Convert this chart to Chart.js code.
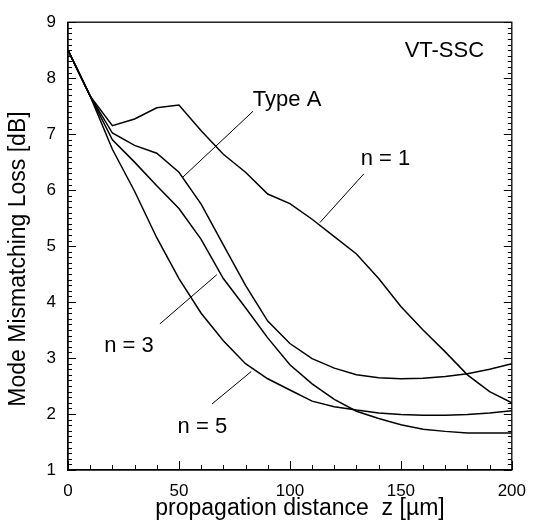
<!DOCTYPE html>
<html>
<head>
<meta charset="utf-8">
<script src="https://cdn.jsdelivr.net/npm/chart.js@4.4.0/dist/chart.umd.min.js"></script>
<style>
  html, body { margin: 0; padding: 0; background: #fff; }
  #wrap { width: 537px; height: 530px; }
</style>
</head>
<body>
<div id="wrap"><canvas id="lossChart"></canvas></div>
<script>
// propagation distance z [um]
var zValues = [0, 10, 20, 30, 40, 50, 60, 70, 80, 90, 100, 110, 120, 130, 140, 150, 160, 170, 180, 190, 200];

// mode mismatching loss [dB]
var lossN1 = [8.5, 7.68, 7.15, 7.27, 7.47, 7.52, 7.06, 6.64, 6.32, 5.93, 5.76, 5.48, 5.17, 4.86, 4.42, 3.92, 3.50, 3.11, 2.70, 2.40, 2.20];
var lossTypeA = [8.5, 7.68, 7.02, 6.80, 6.66, 6.32, 5.75, 5.02, 4.30, 3.66, 3.26, 2.99, 2.82, 2.70, 2.65, 2.63, 2.64, 2.67, 2.72, 2.80, 2.90];
var lossN3 = [8.5, 7.68, 6.90, 6.50, 6.08, 5.67, 5.12, 4.42, 3.90, 3.36, 2.88, 2.54, 2.26, 2.05, 1.92, 1.81, 1.73, 1.69, 1.66, 1.66, 1.66];
var lossN5 = [8.5, 7.68, 6.73, 5.98, 5.15, 4.42, 3.80, 3.31, 2.90, 2.63, 2.43, 2.23, 2.13, 2.07, 2.02, 1.99, 1.98, 1.98, 1.99, 2.02, 2.06];

// in-plot labels (left / baseline, data units)
var labelTexts = ["VT-SSC", "Type A", "n = 1", "n = 3", "n = 5"];
var labelZ = [151.7, 83.3, 131.9, 16.3, 49.4];
var labelLoss = [8.37, 7.51, 6.45, 3.11, 1.66];

// leader lines from label to curve
var leaderZ1 = [83.4, 133.3, 41.4, 64.9];
var leaderLoss1 = [7.41, 6.29, 3.61, 2.18];
var leaderZ2 = [51.7, 113.5, 67.1, 82.6];
var leaderLoss2 = [6.23, 5.42, 4.49, 2.76];

function toPoints(ys) {
  return zValues.map(function (z, i) { return { x: z, y: ys[i] }; });
}

function curve(label, ys) {
  return {
    label: label,
    data: toPoints(ys),
    borderColor: "#000",
    borderWidth: 1.5,
    pointRadius: 0,
    fill: false,
    tension: 0
  };
}

var font = "'Liberation Sans', Arial, sans-serif";
Chart.defaults.font.family = font;
Chart.defaults.color = "#000";

// frame, inward ticks, titles and labels
var decorations = {
  id: "decorations",
  afterDraw: function (chart) {
    var ctx = chart.ctx;
    var a = chart.chartArea;
    var xs = chart.scales.x;
    var ys = chart.scales.y;
    ctx.save();
    ctx.strokeStyle = "#000";
    ctx.lineWidth = 1.3;
    ctx.strokeRect(a.left, a.top, a.right - a.left, a.bottom - a.top);

    ctx.lineWidth = 1;
    ctx.beginPath();
    for (var v = 0; v <= 200; v += 10) {
      var px = Math.round(xs.getPixelForValue(v)) + 0.5;
      var len = v % 50 === 0 ? 9 : 5;
      ctx.moveTo(px, a.bottom);
      ctx.lineTo(px, a.bottom - len);
    }
    for (var i = 10; i <= 90; i++) {
      var py = Math.round(ys.getPixelForValue(i / 10)) + 0.5;
      var l = i % 10 === 0 ? 8 : 4;
      ctx.moveTo(a.left, py);
      ctx.lineTo(a.left + l, py);
      ctx.moveTo(a.right, py);
      ctx.lineTo(a.right - l, py);
    }
    ctx.stroke();

    // leader lines
    ctx.beginPath();
    for (var k = 0; k < leaderZ1.length; k++) {
      ctx.moveTo(xs.getPixelForValue(leaderZ1[k]), ys.getPixelForValue(leaderLoss1[k]));
      ctx.lineTo(xs.getPixelForValue(leaderZ2[k]), ys.getPixelForValue(leaderLoss2[k]));
    }
    ctx.stroke();

    ctx.fillStyle = "#000";
    ctx.font = "22px " + font;
    ctx.textAlign = "left";
    ctx.textBaseline = "alphabetic";
    for (var j = 0; j < labelTexts.length; j++) {
      ctx.fillText(labelTexts[j], xs.getPixelForValue(labelZ[j]), ys.getPixelForValue(labelLoss[j]));
    }

    // axis titles
    ctx.font = "23px " + font;
    ctx.textAlign = "center";
    ctx.fillText("propagation distance  z [\u00b5m]", 300, 515);
    ctx.translate(25, 259);
    ctx.rotate(-Math.PI / 2);
    ctx.fillText("Mode Mismatching Loss [dB]", 0, 0);
    ctx.restore();
  }
};

var ctx = document.getElementById("lossChart");

var chart = new Chart(ctx, {
  type: "line",
  data: {
    datasets: [
      curve("n = 1", lossN1),
      curve("Type A", lossTypeA),
      curve("n = 3", lossN3),
      curve("n = 5", lossN5)
    ]
  },
  options: {
    responsive: true,
    maintainAspectRatio: false,
    animation: false,
    devicePixelRatio: 1,
    layout: { padding: { left: 0, right: 16, top: 16, bottom: 0 } },
    plugins: {
      legend: { display: false },
      tooltip: { enabled: false }
    },
    scales: {
      x: {
        type: "linear",
        min: 0,
        max: 200,
        grid: { display: false, drawTicks: false },
        border: { display: true, color: "#000", width: 1.3 },
        ticks: { stepSize: 50, padding: 11, font: { size: 17 }, color: "#000" },
        afterFit: function (scale) { scale.height = 60; }
      },
      y: {
        min: 1,
        max: 9,
        grid: { display: false, drawTicks: false },
        border: { display: true, color: "#000", width: 1.3 },
        ticks: { stepSize: 1, padding: 12, font: { size: 17 }, color: "#000" },
        afterFit: function (scale) { scale.width = 68; }
      }
    }
  },
  plugins: [decorations]
});
</script>
</body>
</html>
